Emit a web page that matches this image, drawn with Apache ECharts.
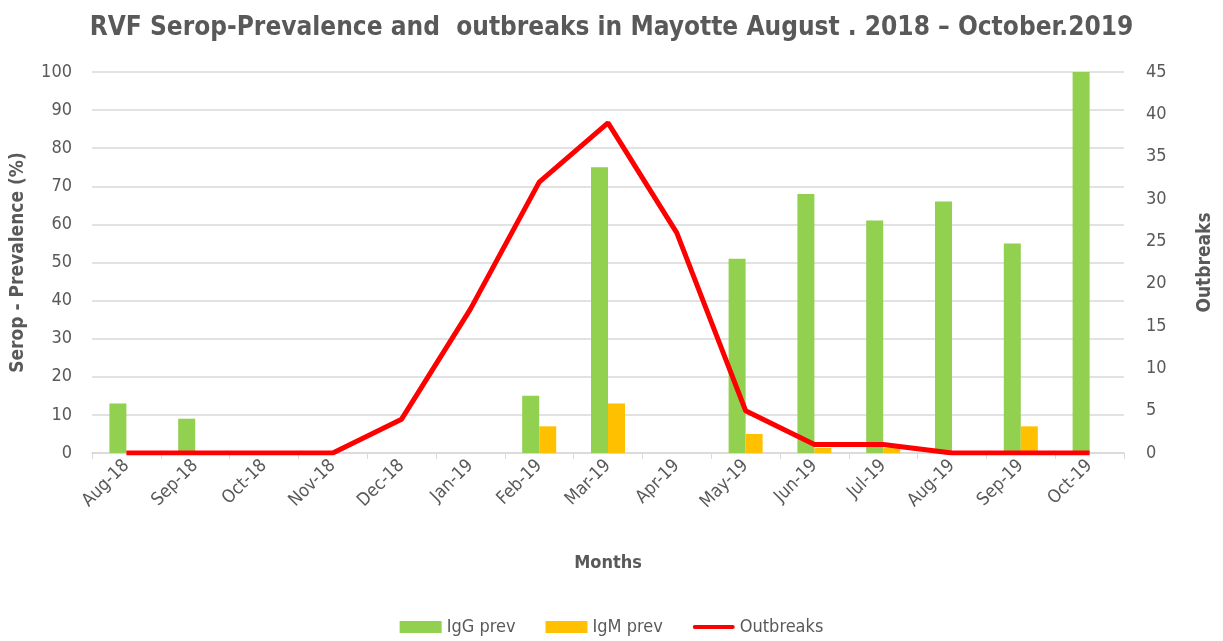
<!DOCTYPE html>
<html>
<head>
<meta charset="utf-8">
<script src="https://cdn.jsdelivr.net/npm/echarts@6/dist/echarts.min.js"></script>
<style>
  html, body { margin: 0; padding: 0; background: #fff; }
  #chart { width: 1223px; height: 641px; }
</style>
</head>
<body>
<div id="chart"></div>
<script>
// data
const months = ['Aug-18', 'Sep-18', 'Oct-18', 'Nov-18', 'Dec-18', 'Jan-19', 'Feb-19', 'Mar-19',
  'Apr-19', 'May-19', 'Jun-19', 'Jul-19', 'Aug-19', 'Sep-19', 'Oct-19']
const iggPrev = [13, 9, null, null, null, null, 15, 75, null, 51, 68, 61, 66, 55, 100]
const igmPrev = [null, null, null, null, null, null, 7, 13, null, 5, 1.3, 1.3, null, 7, null]
const outbreaks = [0, 0, 0, 0, 4, 17, 32, 39, 26, 5, 1, 1, 0, 0, 0]

const textColor = '#595959'
const font = '"DejaVu Sans Condensed", "Open Sans", sans-serif'

const chart = echarts.init(document.getElementById('chart'))

chart.setOption({
  animation: false,
  textStyle: { fontFamily: font },
  title: {
    text: 'RVF Serop-Prevalence and  outbreaks in Mayotte August . 2018 \u2013 October.2019',
    left: 'center',
    top: 10,
    textStyle: { fontFamily: font, fontSize: 26, fontWeight: 'bold', color: textColor }
  },
  legend: {
    bottom: 0,
    left: 'center',
    itemGap: 30,
    itemWidth: 42,
    itemHeight: 12,
    textStyle: { fontFamily: font, fontSize: 18, color: textColor },
    data: [
      { name: 'IgG prev', icon: 'rect' },
      { name: 'IgM prev', icon: 'rect' },
      { name: 'Outbreaks', icon: 'path://M2,0 L40,0 A2,2 0 0 1 40,4 L2,4 A2,2 0 0 1 2,0 Z' }
    ]
  },
  grid: { left: 92, right: 97, top: 72, bottom: 188 },
  xAxis: {
    type: 'category',
    data: months,
    name: 'Months',
    nameLocation: 'middle',
    nameGap: 101,
    nameTextStyle: { fontFamily: font, fontSize: 18, fontWeight: 'bold', color: textColor },
    axisLine: { lineStyle: { color: '#d9d9d9', width: 1.5 } },
    axisTick: { show: true, length: 6, lineStyle: { color: '#d9d9d9' } },
    axisLabel: { rotate: 45, fontSize: 18, color: textColor, margin: 10 }
  },
  yAxis: [
    {
      type: 'value',
      min: 0,
      max: 100,
      interval: 10,
      name: 'Serop - Prevalence (%)',
      nameLocation: 'middle',
      nameGap: 64,
      nameTextStyle: { fontFamily: font, fontSize: 19, fontWeight: 'bold', color: textColor },
      axisLine: { show: false },
      axisTick: { show: false },
      axisLabel: { fontSize: 18, color: textColor, margin: 20 },
      splitLine: { lineStyle: { color: '#d9d9d9', width: 1.5 } }
    },
    {
      type: 'value',
      min: 0,
      max: 45,
      interval: 5,
      position: 'right',
      name: 'Outbreaks',
      nameLocation: 'middle',
      nameRotate: 90,
      nameGap: 72,
      nameTextStyle: { fontFamily: font, fontSize: 19, fontWeight: 'bold', color: textColor },
      axisLine: { show: false },
      axisTick: { show: false },
      axisLabel: { fontSize: 18, color: textColor, margin: 22 },
      splitLine: { show: false }
    }
  ],
  series: [
    {
      name: 'IgG prev',
      type: 'bar',
      data: iggPrev,
      barWidth: 17,
      barGap: '0%',
      itemStyle: { color: '#92d050' }
    },
    {
      name: 'IgM prev',
      type: 'bar',
      data: igmPrev,
      barWidth: 17,
      itemStyle: { color: '#ffc000' }
    },
    {
      name: 'Outbreaks',
      type: 'line',
      yAxisIndex: 1,
      data: outbreaks,
      symbol: 'none',
      lineStyle: { color: '#ff0000', width: 5 },
      itemStyle: { color: '#ff0000' }
    }
  ]
})
</script>
</body>
</html>
